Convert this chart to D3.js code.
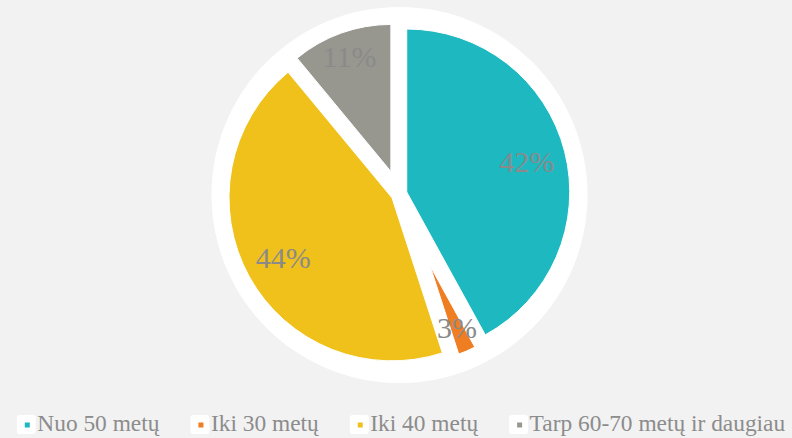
<!DOCTYPE html>
<html>
<head>
<meta charset="utf-8">
<script src="https://cdn.jsdelivr.net/npm/d3@7"></script>
<style>
  html, body { margin: 0; padding: 0; background: #f2f2f2; }
  svg { display: block; }
  svg text { font-family: "Liberation Serif", "Times New Roman", "DejaVu Serif", serif; }
</style>
</head>
<body>
<div class="pieChart"></div>
<script>
// data
var categories = ["Nuo 50 metų", "Iki 30 metų", "Iki 40 metų", "Tarp 60-70 metų ir daugiau"];
var values = [42, 3, 44, 11];
var colors = ["#1eb8c1", "#ef7d22", "#f0c11b", "#97978f"];
// how far each slice is pulled out (px)
var explode = [8, 78, 8, 24];

var width = 792, height = 438;
var cx = 399, cy = 194, R = 171;

var svg = d3.select(".pieChart").append("svg")
    .attr("width", width)
    .attr("height", height);

svg.append("rect")
    .attr("width", width)
    .attr("height", height)
    .attr("fill", "#f2f2f2");

var g = svg.append("g").attr("transform", `translate(${cx},${cy})`);

// white disc behind the pie
g.append("circle")
    .attr("cx", 0.5)
    .attr("cy", 1)
    .attr("r", 188)
    .attr("fill", "#ffffff");

var pie = d3.pie().sort(null).value(d => d.value);
var arcs = pie(categories.map((c, i) => ({ name: c, value: values[i], i: i })));

var color = d3.scaleOrdinal().domain(categories).range(colors);

function mid(d) { return (d.startAngle + d.endAngle) / 2; }

//slices
g.append("g")
    .selectAll("path")
    .data(arcs)
    .join("path")
    .attr("transform", d => {
        var e = explode[d.data.i];
        return `translate(${Math.sin(mid(d)) * e},${-Math.cos(mid(d)) * e})`;
    })
    .attr("d", d => d3.arc().innerRadius(0).outerRadius(R - explode[d.data.i])(d))
    .attr("fill", d => color(d.data.name))
    .attr("stroke", "#ffffff")
    .attr("stroke-width", 1);

//labels
g.append("g")
    .style("font-size", "30px")
    .attr("fill", "#8a8a8a")
    .attr("text-anchor", "middle")
    .selectAll("text")
    .data(arcs)
    .join("text")
    .attr("x", d => Math.sin(mid(d)) * (124 + Math.min(explode[d.data.i], 22)))
    .attr("y", d => -Math.cos(mid(d)) * (124 + Math.min(explode[d.data.i], 22)))
    .attr("dy", "0.35em")
    .text(d => d.data.value + "%");

//legend
var legend = svg.append("g")
    .style("font-size", "23.4px")
    .attr("fill", "#8c8c8c");

var items = legend.selectAll("g")
    .data(categories)
    .join("g");

items.append("rect")
    .attr("x", 0).attr("y", -16)
    .attr("width", 19).attr("height", 19)
    .attr("rx", 3)
    .attr("fill", "#ffffff");

items.append("rect")
    .attr("x", 8).attr("y", -8.5)
    .attr("width", 5).attr("height", 5)
    .attr("fill", d => color(d));

items.append("text")
    .attr("x", 20.5)
    .attr("y", 0)
    .text(d => d);

var widths = [];
items.each(function () {
    widths.push(20.5 + d3.select(this).select("text").node().getComputedTextLength());
});
var gap = 31;
var total = d3.sum(widths) + gap * (widths.length - 1);
var x0 = (width - total) / 2 + 5;
items.attr("transform", (d, i) => {
    var x = x0 + d3.sum(widths.slice(0, i)) + gap * i;
    return `translate(${x},431)`;
});
</script>
</body>
</html>
